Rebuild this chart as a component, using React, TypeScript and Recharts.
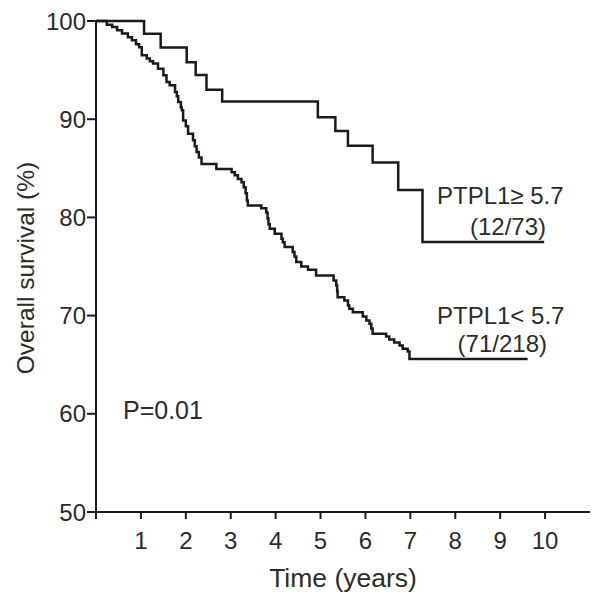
import React from 'react';
import { LineChart, Line, XAxis, YAxis, Customized } from 'recharts';

if (typeof document !== 'undefined') {
  document.body.style.margin = '0';
}

// PTPL1 >= 5.7 (12/73)
const highTimes = [0, 1.07, 1.44, 2.02, 2.22, 2.46, 2.81, 4.94, 5.33, 5.61, 6.16, 6.73, 7.27, 9.98];
const highSurvival = [100, 98.7, 97.3, 95.8, 94.5, 93.0, 91.8, 90.2, 88.8, 87.3, 85.6, 82.8, 77.5, 77.5];

// PTPL1 < 5.7 (71/218)
const lowTimes = [
  0, 0.24, 0.36, 0.47, 0.58, 0.71, 0.8, 0.89, 0.96, 1.02, 1.13, 1.2, 1.27, 1.38, 1.5, 1.57, 1.64,
  1.76, 1.8, 1.83, 1.89, 1.91, 1.94, 2.0, 2.05, 2.16, 2.2, 2.24, 2.29, 2.35, 2.68, 3.02, 3.09, 3.16,
  3.24, 3.29, 3.33, 3.36, 3.38, 3.68, 3.79, 3.82, 3.84, 3.87, 3.98, 4.13, 4.16, 4.2, 4.38, 4.42,
  4.46, 4.57, 4.72, 4.9, 5.29, 5.35, 5.37, 5.38, 5.53, 5.61, 5.64, 5.72, 5.94, 6.02, 6.09, 6.13,
  6.16, 6.46, 6.53, 6.64, 6.76, 6.83, 6.94, 6.98, 9.61,
];
const lowSurvival = [
  100, 99.63, 99.39, 99.05, 98.72, 98.34, 98.04, 97.63, 97.32, 96.51, 96.17, 95.89, 95.66, 95.15,
  94.47, 93.79, 93.45, 92.77, 92.33, 91.75, 91.21, 90.9, 89.88, 89.27, 88.53, 87.85, 87.24, 86.66,
  86.11, 85.45, 84.94, 84.59, 84.28, 83.92, 83.57, 83.06, 82.45, 81.73, 81.22, 80.92, 80.51, 79.9,
  79.29, 78.85, 78.34, 77.83, 77.46, 76.98, 76.47, 76.03, 75.45, 75.01, 74.67, 74.09, 73.58, 73.07,
  72.46, 71.88, 71.55, 71.04, 70.7, 70.35, 69.92, 69.51, 69.17, 68.69, 68.15, 67.88, 67.57, 67.27,
  66.96, 66.63, 66.35, 65.59, 65.59,
];

const xTicks = [0, 1, 2, 3, 4, 5, 6, 7, 8, 9, 10];
const yTicks = [50, 60, 70, 80, 90, 100];

const highData = highTimes.map((t, i) => ({ t, s: highSurvival[i] }));
const lowData = lowTimes.map((t, i) => ({ t, s: lowSurvival[i] }));

const FONT = '"Liberation Sans", Arial, Helvetica, sans-serif';
const TEXT = '#2b2b2b';
const INK = '#1a1a1a';

const XTick = (props: any) => {
  const { x, y, payload } = props;
  if (payload.value === 0) return <g />;
  return (
    <text x={x} y={y + 30} textAnchor="middle" fontFamily={FONT} fontSize={24} fill={TEXT}>
      {payload.value}
    </text>
  );
};

const YTick = (props: any) => {
  const { x, y, payload } = props;
  return (
    <text x={x} y={y + 8.5} textAnchor="end" fontFamily={FONT} fontSize={24} fill={TEXT}>
      {payload.value}
    </text>
  );
};

const Annotations = () => (
  <g fontFamily={FONT} fill={TEXT}>
    <text x={437} y={204} fontSize={24}>PTPL1≥ 5.7</text>
    <text x={546} y={235} fontSize={24} textAnchor="end">(12/73)</text>
    <text x={437} y={324} fontSize={24}>PTPL1&lt; 5.7</text>
    <text x={547} y={352} fontSize={24} textAnchor="end">(71/218)</text>
    <text x={123} y={419} fontSize={25}>P=0.01</text>
    <text x={343} y={587} fontSize={26.5} textAnchor="middle">Time (years)</text>
    <text transform="translate(34, 268) rotate(-90)" x={0} y={0} fontSize={24.5} textAnchor="middle">
      Overall survival (%)
    </text>
  </g>
);

export default function App() {
  return (
    <div style={{ width: 600, height: 601, background: '#fff' }}>
      <LineChart width={600} height={601} margin={{ top: 21, right: 10, bottom: 0, left: 0 }}>
        <XAxis
          type="number"
          dataKey="t"
          domain={[0, 11]}
          ticks={xTicks}
          interval={0}
          height={89}
          tickSize={7}
          tickMargin={0}
          axisLine={{ stroke: INK, strokeWidth: 2 }}
          tickLine={{ stroke: INK, strokeWidth: 2 }}
          tick={<XTick />}
        />
        <YAxis
          type="number"
          domain={[50, 100]}
          ticks={yTicks}
          interval={0}
          width={96}
          tickSize={9}
          tickMargin={1}
          axisLine={{ stroke: INK, strokeWidth: 2 }}
          tickLine={{ stroke: INK, strokeWidth: 2 }}
          tick={<YTick />}
        />
        <Line
          data={highData}
          dataKey="s"
          type="stepAfter"
          stroke={INK}
          strokeWidth={2.5}
          dot={false}
          activeDot={false}
          isAnimationActive={false}
        />
        <Line
          data={lowData}
          dataKey="s"
          type="stepAfter"
          stroke={INK}
          strokeWidth={2.5}
          dot={false}
          activeDot={false}
          isAnimationActive={false}
        />
        <Customized component={Annotations} />
      </LineChart>
    </div>
  );
}
